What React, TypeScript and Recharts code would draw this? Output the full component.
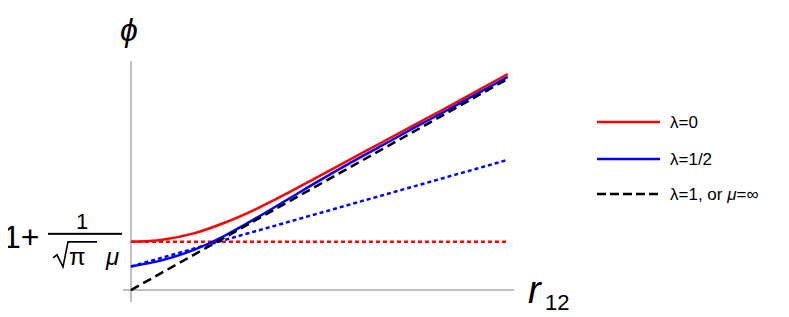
import React from "react";
import { LineChart, Line, XAxis, YAxis, ReferenceLine } from "recharts";

const xs = [0, 0.5, 1, 1.5, 2, 2.5, 3, 3.5, 4, 4.5, 5, 5.5, 6];
const redSolid = [1.37, 1.43, 1.61, 1.92, 2.31, 2.76, 3.24, 3.72, 4.2, 4.68, 5.16, 5.65, 6.14];
const blueSolid = [0.67, 0.85, 1.14, 1.55, 2.05, 2.58, 3.11, 3.62, 4.11, 4.6, 5.08, 5.57, 6.06];
const lineXs = [0, 6];
const blackDashed = [0, 6];
const blueDotted = [0.67, 3.7];
const redDotted = [1.37, 1.37];
const yTicks = [1.37];
const legendLabels = ["λ=0", "λ=1/2"];

const build = (x: number[], y: number[]) => x.map((v, i) => ({ x: v, y: y[i] }));

const FONT = "'Liberation Sans', Arial, sans-serif";
const SW = 2.5;

const YTick = (props: any) => {
  const { y } = props;
  return (
    <g fontFamily={FONT} fill="#000">
      <text x={3} y={y + 6} fontSize={32}>1+</text>
      <rect x={48} y={y - 9} width={74} height={2} fill="#000" />
      <text x={82} y={y - 13} fontSize={22} textAnchor="middle">1</text>
      <path d={`M53 ${y + 16} L57 ${y + 13} L63 ${y + 25} L68 ${y} L97 ${y}`} stroke="#000" strokeWidth={1.6} fill="none" />
      <text x={69} y={y + 23} fontSize={24}>π</text>
      <text x={106} y={y + 23} fontSize={24} fontStyle="italic">μ</text>
    </g>
  );
};

export default function App() {
  return (
    <div style={{ margin: "-8px 0 0 -8px", position: "relative", width: 789, height: 317 }}>
      <LineChart width={789} height={317} margin={{ top: 61, right: 275, bottom: 15, left: 0 }}>
        <XAxis type="number" dataKey="x" domain={[-0.127, 6.1]} hide allowDataOverflow />
        <YAxis
          type="number"
          domain={[-0.34, 6.51]}
          ticks={yTicks}
          width={123}
          axisLine={false}
          tickLine={false}
          tick={<YTick />}
          allowDataOverflow
        />
        <ReferenceLine x={0} stroke="#808080" strokeWidth={1} />
        <ReferenceLine y={0} stroke="#808080" strokeWidth={1} />
        <Line data={build(lineXs, redDotted)} dataKey="y" stroke="#ff0000" strokeWidth={SW} strokeDasharray="4 3" dot={false} isAnimationActive={false} type="linear" />
        <Line data={build(lineXs, blueDotted)} dataKey="y" stroke="#0000ff" strokeWidth={SW} strokeDasharray="4 3" dot={false} isAnimationActive={false} type="linear" />
        <Line data={build(xs, redSolid)} dataKey="y" stroke="#ff0000" strokeWidth={SW} dot={false} isAnimationActive={false} type="monotone" />
        <Line data={build(xs, blueSolid)} dataKey="y" stroke="#0000ff" strokeWidth={SW} dot={false} isAnimationActive={false} type="monotone" />
        <Line data={build(lineXs, blackDashed)} dataKey="y" stroke="#000000" strokeWidth={SW} strokeDasharray="9 5" dot={false} isAnimationActive={false} type="linear" />
      </LineChart>
      <svg width={789} height={317} style={{ position: "absolute", left: 0, top: 0, pointerEvents: "none" }} fontFamily={FONT}>
        <text x={129} y={41} fontSize={32} fontStyle="italic" textAnchor="middle">ϕ</text>
        <text x={528} y={303} fontSize={38} fontStyle="italic">r</text>
        <text x={545} y={310} fontSize={22}>12</text>
        <line x1={597} x2={660} y1={122} y2={122} stroke="#ff0000" strokeWidth={SW} />
        <line x1={597} x2={660} y1={159} y2={159} stroke="#0000ff" strokeWidth={SW} />
        <line x1={597} x2={660} y1={194} y2={194} stroke="#000" strokeWidth={SW} strokeDasharray="9 4" />
        <text x={670} y={128} fontSize={17}>{legendLabels[0]}</text>
        <text x={670} y={165} fontSize={17}>{legendLabels[1]}</text>
        <text x={670} y={200} fontSize={17}>
          λ=1, or <tspan fontStyle="italic">μ</tspan>=∞
        </text>
      </svg>
    </div>
  );
}
